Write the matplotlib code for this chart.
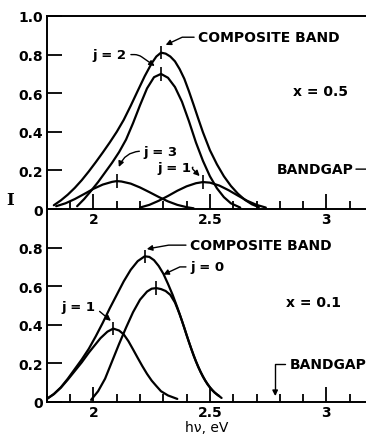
import matplotlib
matplotlib.use("Agg")
import matplotlib.pyplot as plt
from matplotlib.ticker import MultipleLocator

# photon energy (eV) and relative intensity, x = 0.5 alloy
e_comp_05 = [1.83, 1.86, 1.89, 1.92, 1.95, 1.98, 2.01, 2.04, 2.07, 2.10, 2.13, 2.16, 2.19,
             2.22, 2.25, 2.27, 2.29, 2.31, 2.33, 2.35, 2.37, 2.39, 2.41, 2.43, 2.45, 2.47,
             2.50, 2.53, 2.56, 2.59, 2.62, 2.65, 2.68, 2.71]
i_comp_05 = [0.020, 0.045, 0.075, 0.110, 0.150, 0.195, 0.243, 0.293, 0.345, 0.400, 0.462,
             0.535, 0.612, 0.688, 0.755, 0.790, 0.810, 0.805, 0.790, 0.765, 0.725, 0.675,
             0.610, 0.540, 0.468, 0.398, 0.305, 0.232, 0.170, 0.120, 0.080, 0.048, 0.025, 0.010]
e_j2_05 = [1.93, 1.96, 1.99, 2.02, 2.05, 2.08, 2.11, 2.14, 2.17, 2.20, 2.23, 2.26, 2.29,
           2.32, 2.35, 2.38, 2.41, 2.44, 2.47, 2.50, 2.53, 2.56, 2.59, 2.63]
i_j2_05 = [0.015, 0.052, 0.095, 0.140, 0.190, 0.240, 0.295, 0.360, 0.445, 0.538, 0.625,
           0.683, 0.700, 0.680, 0.632, 0.556, 0.455, 0.345, 0.250, 0.170, 0.108, 0.062,
           0.030, 0.008]
e_j3_05 = [1.84, 1.88, 1.92, 1.96, 2.00, 2.04, 2.08, 2.10, 2.12, 2.16, 2.20, 2.24, 2.28,
           2.32, 2.36, 2.40, 2.43]
i_j3_05 = [0.015, 0.030, 0.052, 0.078, 0.105, 0.127, 0.141, 0.145, 0.143, 0.132, 0.112,
           0.088, 0.063, 0.040, 0.022, 0.010, 0.004]
e_j1_05 = [2.20, 2.24, 2.28, 2.32, 2.36, 2.40, 2.44, 2.47, 2.50, 2.54, 2.58, 2.62, 2.66,
           2.70, 2.74]
i_j1_05 = [0.008, 0.022, 0.043, 0.068, 0.095, 0.118, 0.134, 0.140, 0.137, 0.122, 0.098,
           0.070, 0.043, 0.022, 0.008]

# x = 0.1 alloy
e_comp_01 = [1.80, 1.83, 1.86, 1.89, 1.92, 1.95, 1.98, 2.01, 2.04, 2.07, 2.10, 2.13, 2.16,
             2.19, 2.22, 2.24, 2.26, 2.28, 2.30, 2.32, 2.34, 2.36, 2.38, 2.40, 2.42, 2.44,
             2.46, 2.48, 2.50, 2.52, 2.54]
i_comp_01 = [0.015, 0.040, 0.075, 0.120, 0.170, 0.220, 0.275, 0.340, 0.410, 0.485, 0.555,
             0.625, 0.685, 0.730, 0.755, 0.752, 0.735, 0.705, 0.665, 0.612, 0.555, 0.490,
             0.420, 0.345, 0.275, 0.210, 0.155, 0.110, 0.075, 0.048, 0.030]
e_j0_01 = [1.99, 2.02, 2.05, 2.08, 2.11, 2.14, 2.17, 2.20, 2.23, 2.25, 2.27, 2.29, 2.31,
           2.33, 2.35, 2.37, 2.39, 2.41, 2.43, 2.45, 2.47, 2.49, 2.51, 2.53, 2.55]
i_j0_01 = [0.010, 0.055, 0.120, 0.210, 0.300, 0.385, 0.465, 0.530, 0.572, 0.587, 0.590,
           0.585, 0.575, 0.555, 0.515, 0.455, 0.385, 0.310, 0.240, 0.180, 0.130, 0.090,
           0.060, 0.038, 0.020]
e_j1_01 = [1.80, 1.83, 1.86, 1.89, 1.92, 1.95, 1.98, 2.00, 2.03, 2.06, 2.085, 2.11, 2.13,
           2.15, 2.17, 2.19, 2.21, 2.23, 2.25, 2.27, 2.29, 2.32, 2.36]
i_j1_01 = [0.015, 0.040, 0.073, 0.115, 0.160, 0.205, 0.255, 0.285, 0.330, 0.364, 0.380,
           0.370, 0.350, 0.315, 0.272, 0.228, 0.185, 0.145, 0.110, 0.082, 0.055, 0.033, 0.015]

x_major = [2, 2.5, 3]
x_labels = ["2", "2.5", "3"]
y_top = [0, 0.2, 0.4, 0.6, 0.8, 1.0]
y_top_labels = ["0", "0.2", "0.4", "0.6", "0.8", "1.0"]
y_bot = [0, 0.2, 0.4, 0.6, 0.8]
y_bot_labels = ["0", "0.2", "0.4", "0.6", "0.8"]

plt.rcParams["font.family"] = ["DejaVu Sans"]
plt.rcParams["font.weight"] = "bold"

fig = plt.figure(figsize=(3.66, 4.35), dpi=100)
ax1 = fig.add_axes([0.128, 0.517, 0.872, 0.444])
ax2 = fig.add_axes([0.128, 0.074, 0.872, 0.443])

LW = 1.6


def style(ax, yticks, ylabels):
    ax.set_xlim(1.8, 3.17)
    ax.set_ylim(0, 1.0)
    ax.patch.set_visible(False)
    ax.spines["right"].set_visible(False)
    for s in ax.spines.values():
        s.set_linewidth(1.4)
    ax.set_xticks(x_major)
    ax.set_xticklabels(x_labels)
    ax.xaxis.set_minor_locator(MultipleLocator(0.1))
    ax.set_yticks(yticks)
    ax.set_yticklabels(ylabels)
    ax.tick_params(axis="x", which="major", direction="in", length=11, width=1.3,
                   pad=2, labelsize=10)
    ax.tick_params(axis="x", which="minor", direction="in", length=6, width=1.3)
    ax.tick_params(axis="y", which="major", direction="in", length=11, width=1.3,
                   pad=3, labelsize=10)


def band(ax, e, i):
    ax.plot(e, i, color="black", lw=LW, solid_joinstyle="round", solid_capstyle="round")
    k = i.index(max(i))
    ax.vlines(e[k], i[k] - 0.035, i[k] + 0.035, color="black", lw=1.2)


style(ax1, y_top, y_top_labels)
style(ax2, y_bot, y_bot_labels)
ax2.spines["top"].set_visible(False)

for e, i in [(e_comp_05, i_comp_05), (e_j2_05, i_j2_05), (e_j3_05, i_j3_05), (e_j1_05, i_j1_05)]:
    band(ax1, e, i)
for e, i in [(e_comp_01, i_comp_01), (e_j0_01, i_j0_01), (e_j1_01, i_j1_01)]:
    band(ax2, e, i)

FS = 10
arrow = dict(arrowstyle="-|>", color="black", lw=1.0, mutation_scale=8, shrinkA=1, shrinkB=0)

# upper panel labels
ax1.annotate("COMPOSITE BAND", xy=(2.31, 0.85), xytext=(2.45, 0.89), fontsize=FS,
             va="center", ha="left",
             arrowprops=dict(arrow, relpos=(0, 0.5), connectionstyle="angle,angleA=0,angleB=25,rad=0"))
ax1.annotate("j = 2", xy=(2.263, 0.741), xytext=(1.997, 0.80), fontsize=FS - 0.5,
             va="center", ha="left",
             arrowprops=dict(arrow, relpos=(1, 0.5), connectionstyle="angle,angleA=0,angleB=145,rad=4"))
ax1.annotate("j = 3", xy=(2.109, 0.218), xytext=(2.215, 0.30), fontsize=FS - 0.5,
             va="center", ha="left",
             arrowprops=dict(arrow, relpos=(0, 0.5), connectionstyle="arc3,rad=0.35"))
ax1.annotate("j = 1", xy=(2.456, 0.171), xytext=(2.275, 0.218), fontsize=FS - 0.5,
             va="center", ha="left",
             arrowprops=dict(arrow, relpos=(1, 0.5), connectionstyle="angle,angleA=0,angleB=135,rad=4"))
ax1.text(2.855, 0.61, "x = 0.5", fontsize=FS, va="center", ha="left")
ax1.annotate("BANDGAP", xy=(3.4, 0.207), xytext=(2.785, 0.207), fontsize=FS,
             va="center", ha="left", annotation_clip=False,
             arrowprops=dict(arrowstyle="-", color="black", lw=1.0, relpos=(1, 0.5), shrinkA=0, shrinkB=0))

# lower panel labels
ax2.annotate("COMPOSITE BAND", xy=(2.229, 0.793), xytext=(2.415, 0.813), fontsize=FS,
             va="center", ha="left",
             arrowprops=dict(arrow, relpos=(0, 0.5), connectionstyle="angle,angleA=0,angleB=10,rad=0"))
ax2.annotate("j = 0", xy=(2.30, 0.66), xytext=(2.415, 0.70), fontsize=FS - 0.5,
             va="center", ha="left",
             arrowprops=dict(arrow, relpos=(0, 0.5), connectionstyle="angle,angleA=0,angleB=25,rad=0"))
ax2.annotate("j = 1", xy=(2.075, 0.42), xytext=(1.864, 0.497), fontsize=FS - 0.5,
             va="center", ha="left",
             arrowprops=dict(arrow, relpos=(1, 0.5), connectionstyle="angle,angleA=0,angleB=140,rad=4"))
ax2.text(2.825, 0.518, "x = 0.1", fontsize=FS, va="center", ha="left")
ax2.annotate("BANDGAP", xy=(2.78, 0.03), xytext=(2.842, 0.197), fontsize=FS,
             va="center", ha="left",
             arrowprops=dict(arrow, relpos=(0, 0.5), connectionstyle="angle,angleA=0,angleB=90,rad=0"))

ax2.set_xlabel("h\u03bd, eV", fontsize=FS, labelpad=1)
fig.text(0.027, 0.54, "I", family="DejaVu Serif", fontsize=12, ha="center", va="center")

fig.savefig("out.png", dpi=100)
